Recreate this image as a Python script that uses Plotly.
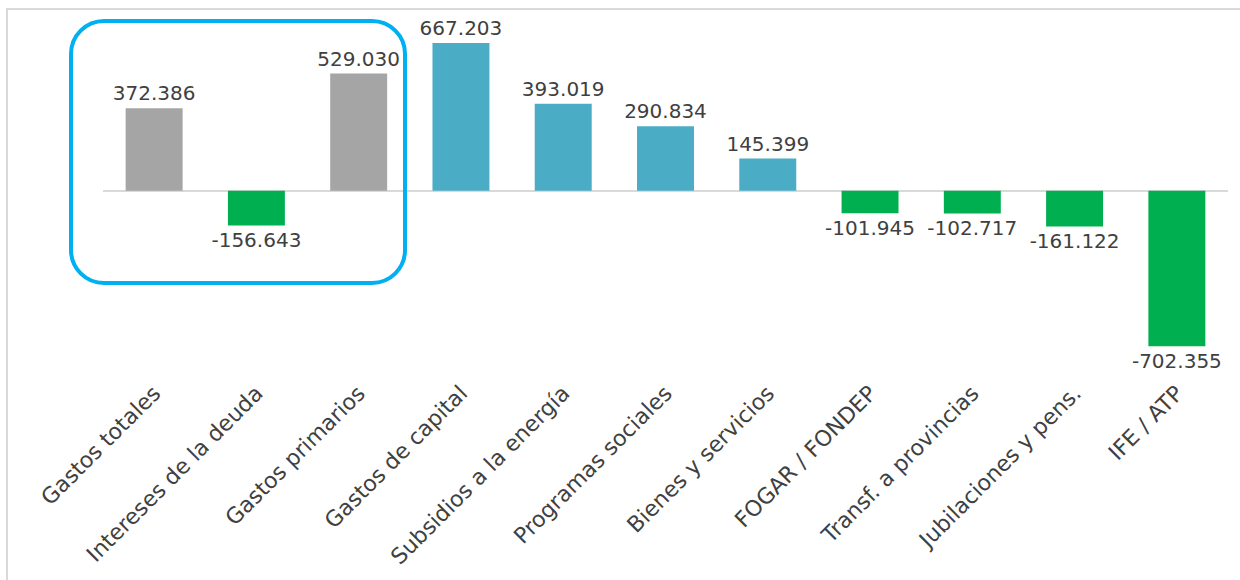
import plotly.graph_objects as go

categories = ["Gastos totales", "Intereses de la deuda", "Gastos primarios",
              "Gastos de capital", "Subsidios a la energía", "Programas sociales",
              "Bienes y servicios", "FOGAR / FONDEP", "Transf. a provincias",
              "Jubilaciones y pens.", "IFE / ATP"]
values = [372386, -156643, 529030, 667203, 393019, 290834, 145399,
          -101945, -102717, -161122, -702355]
groups = ["total", "neg", "total", "pos", "pos", "pos", "pos",
          "neg", "neg", "neg", "neg"]

palette = {"total": "#A5A5A5", "pos": "#4BACC6", "neg": "#00B050"}
colors = [palette[g] for g in groups]
labels = [f"{v:,}".replace(",", ".") for v in values]

W, H = 1240, 580
ML, MR, MT, MB = 103, 12, 20, 205
PW, PH = W - ML - MR, H - MT - MB

def px_x(p):
    return (p - ML) / PW

def px_y(p):
    return (H - MB - p) / PH

FONT = "DejaVu Sans"
TXT = "#404040"

fig = go.Figure(go.Bar(
    x=categories, y=values, marker_color=colors, marker_line_width=0,
    text=labels, textposition="outside", constraintext="none",
    cliponaxis=False,
    textfont=dict(family=FONT, size=20, color=TXT),
    hoverinfo="x+y",
))

# rounded highlight box around first three bars
x0, x1, y0, y1, r = 71, 405, 21, 283, 33
k = 0.5523 * r
pts = [
    f"M {px_x(x0 + r)},{px_y(y0)}",
    f"L {px_x(x1 - r)},{px_y(y0)}",
    f"C {px_x(x1 - r + k)},{px_y(y0)} {px_x(x1)},{px_y(y0 + r - k)} {px_x(x1)},{px_y(y0 + r)}",
    f"L {px_x(x1)},{px_y(y1 - r)}",
    f"C {px_x(x1)},{px_y(y1 - r + k)} {px_x(x1 - r + k)},{px_y(y1)} {px_x(x1 - r)},{px_y(y1)}",
    f"L {px_x(x0 + r)},{px_y(y1)}",
    f"C {px_x(x0 + r - k)},{px_y(y1)} {px_x(x0)},{px_y(y1 - r + k)} {px_x(x0)},{px_y(y1 - r)}",
    f"L {px_x(x0)},{px_y(y0 + r)}",
    f"C {px_x(x0)},{px_y(y0 + r - k)} {px_x(x0 + r - k)},{px_y(y0)} {px_x(x0 + r)},{px_y(y0)}",
    "Z",
]
shapes = [
    dict(type="rect", xref="paper", yref="paper",
         x0=px_x(7), x1=px_x(1300), y0=px_y(9), y1=px_y(700),
         line=dict(color="#D9D9D9", width=2), fillcolor="rgba(0,0,0,0)", layer="below"),
    dict(type="path", xref="paper", yref="paper", path=" ".join(pts),
         line=dict(color="#00B0F0", width=4), fillcolor="rgba(0,0,0,0)"),
]

fig.update_layout(
    width=W, height=H,
    margin=dict(l=ML, r=MR, t=MT, b=MB, autoexpand=False),
    paper_bgcolor="white", plot_bgcolor="white",
    showlegend=False, bargap=0.443,
    shapes=shapes,
    font=dict(family=FONT, color=TXT),
    xaxis=dict(tickangle=-45, tickfont=dict(family=FONT, size=22, color=TXT),
               showgrid=False, showline=False, ticks="", automargin=False),
    yaxis=dict(range=[-832000, 770700], showgrid=False, showticklabels=False,
               zeroline=True, zerolinecolor="#D9D9D9", zerolinewidth=2,
               automargin=False),
)

fig.write_html("out.html", config={"displayModeBar": False},
               post_script="document.body.style.margin='0';document.body.style.overflow='hidden';")
